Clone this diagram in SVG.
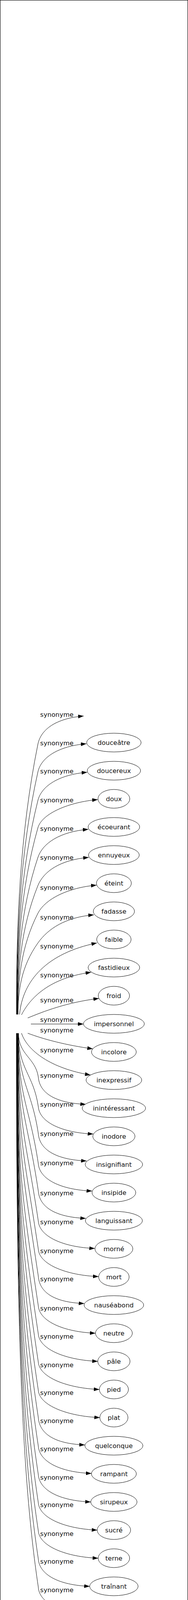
<svg xmlns="http://www.w3.org/2000/svg" width="481" height="4163" viewBox="0 0 481 4163">
<defs>
<style>
.frame{fill:#fff;stroke:#000;stroke-width:1.2}
.n ellipse{fill:#fff;stroke:#000;stroke-width:1}
.n ellipse.hid{fill:none;stroke:none}
.n text{font-family:"DejaVu Sans",Verdana,sans-serif;font-size:16.5px;fill:#111;text-anchor:middle}
.e path{fill:none;stroke:#000;stroke-width:1;marker-end:url(#arr)}
.e text{font-family:"DejaVu Sans",Verdana,sans-serif;font-size:16.5px;fill:#111;text-anchor:middle}
</style>
<marker id="arr" markerUnits="userSpaceOnUse" markerWidth="14" markerHeight="10" viewBox="0 0 13 9" refX="13" refY="4.5" orient="auto">
<path d="M0,0 L13,4.5 L0,9 Z" fill="#000"/>
</marker>
</defs>
<rect class="frame" x="0.5" y="0.5" width="480" height="4162"/>
<g id="edges">
<g class="e" id="e0"><path d="M42,2597 C42,2366 50.3,2136 97,1905 C104.5,1868 142,1839 214,1833"/><text x="145.5" y="1835">synonyme</text></g>
<g class="e" id="e1"><path d="M42.6,2597 C42.6,2390 50.8,2183 97,1976 C105.3,1939 149,1910 221,1904"/><text x="145.5" y="1908">synonyme</text></g>
<g class="e" id="e2"><path d="M43.2,2597 C43.2,2414 51.3,2232 97,2049 C106.3,2012 151,1983 223,1977"/><text x="145.5" y="1980">synonyme</text></g>
<g class="e" id="e3"><path d="M43.8,2597 C43.8,2438 51.8,2278 97,2119 C107.5,2082 178,2053 250,2047"/><text x="145.5" y="2054">synonyme</text></g>
<g class="e" id="e4"><path d="M44.4,2597 C44.4,2463 52.3,2329 97,2195 C109.4,2158 154,2129 226,2123"/><text x="145.5" y="2127">synonyme</text></g>
<g class="e" id="e5"><path d="M45,2597 C45,2487 52.8,2377 97,2267 C111.9,2230 155,2201 227,2195"/><text x="145.5" y="2201">synonyme</text></g>
<g class="e" id="e6"><path d="M45.6,2597 C45.6,2511 53.3,2424 97,2338 C115.7,2301 175,2272 247,2266"/><text x="145.5" y="2278">synonyme</text></g>
<g class="e" id="e7"><path d="M46.2,2597 C46.2,2536 53.8,2475 97,2414 C123.2,2377 168,2348 240,2342"/><text x="145.5" y="2354">synonyme</text></g>
<g class="e" id="e8"><path d="M50,2597 C58,2510 120,2440 248,2414"/><text x="145.5" y="2428">synonyme</text></g>
<g class="e" id="e9"><path d="M55,2598 C72,2565 115,2505 233,2489"/><text x="145.5" y="2502">synonyme</text></g>
<g class="e" id="e10"><path d="M71,2606 C110,2590 170,2566 253,2556"/><text x="145.5" y="2566">synonyme</text></g>
<g class="e" id="e11"><path d="M79,2621.5 L213.4,2621.5"/><text x="145.5" y="2616">synonyme</text></g>
<g class="e" id="e12"><path d="M71,2645 C110,2660 170,2676 237.4,2685"/><text x="145.5" y="2643">synonyme</text></g>
<g class="e" id="e13"><path d="M55,2645 C70,2690 130,2735 231.5,2752"/><text x="145.5" y="2694">synonyme</text></g>
<g class="e" id="e14"><path d="M47.4,2645 C47.4,2701 90.4,2707 98,2757 C101,2797 139.5,2824 219.5,2827"/><text x="145.5" y="2759">synonyme</text></g>
<g class="e" id="e15"><path d="M47.1,2645 C47.1,2739 85.3,2748 98,2833 C101,2873 158.5,2900 238.5,2903"/><text x="145.5" y="2833">synonyme</text></g>
<g class="e" id="e16"><path d="M46.8,2645 C46.8,2773 80.6,2786 98,2902 C101,2942 141.5,2969 221.5,2972"/><text x="145.5" y="2908">synonyme</text></g>
<g class="e" id="e17"><path d="M46.5,2645 C46.5,2812 75.5,2829 98,2979 C101,3019 155.5,3046 235.5,3049"/><text x="145.5" y="2983">synonyme</text></g>
<g class="e" id="e18"><path d="M46.2,2645 C46.2,2847 70.7,2867 98,3049 C101,3089 139.5,3116 219.5,3119"/><text x="145.5" y="3060">synonyme</text></g>
<g class="e" id="e19"><path d="M45.9,2645 C45.9,2885 65.5,2909 98,3126 C101,3166 162.5,3193 242.5,3196"/><text x="145.5" y="3134">synonyme</text></g>
<g class="e" id="e20"><path d="M45.6,2645 C45.6,2921 60.7,2949 98,3198 C101,3238 172,3265 252,3268"/><text x="145.5" y="3208">synonyme</text></g>
<g class="e" id="e21"><path d="M45.3,2645 C45.3,2956 56,2987 98,3267 C101,3307 135.5,3334 215.5,3337"/><text x="145.5" y="3280">synonyme</text></g>
<g class="e" id="e22"><path d="M45,2645 C45,2994 53,3043 98,3343 C101,3383 164.2,3410 244.2,3413"/><text x="145.5" y="3355">synonyme</text></g>
<g class="e" id="e23"><path d="M44.7,2645 C44.7,3030 53,3115 98,3415 C101,3455 170.1,3482 250.1,3485"/><text x="145.5" y="3427">synonyme</text></g>
<g class="e" id="e24"><path d="M44.4,2645 C44.4,3066 53,3187 98,3487 C101,3527 174.2,3554 254.2,3557"/><text x="145.5" y="3500">synonyme</text></g>
<g class="e" id="e25"><path d="M44.1,2645 C44.1,3102 53,3259 98,3559 C101,3599 175.4,3626 255.4,3629"/><text x="145.5" y="3571">synonyme</text></g>
<g class="e" id="e26"><path d="M43.8,2645 C43.8,3137 53,3329 98,3629 C101,3669 137,3696 217,3699"/><text x="145.5" y="3643">synonyme</text></g>
<g class="e" id="e27"><path d="M43.5,2645 C43.5,3173 53,3402 98,3702 C101,3742 153.9,3769 233.9,3772"/><text x="145.5" y="3715">synonyme</text></g>
<g class="e" id="e28"><path d="M43.2,2645 C43.2,3210 53,3475 98,3775 C101,3815 152.2,3842 232.2,3845"/><text x="145.5" y="3788">synonyme</text></g>
<g class="e" id="e29"><path d="M42.9,2645 C42.9,3246 53,3547 98,3847 C101,3887 168.6,3914 248.6,3917"/><text x="145.5" y="3858">synonyme</text></g>
<g class="e" id="e30"><path d="M42.6,2645 C42.6,3282 53,3619 98,3919 C101,3959 171.1,3986 251.1,3989"/><text x="145.5" y="3932">synonyme</text></g>
<g class="e" id="e31"><path d="M42.3,2645 C42.3,3318 53,3691 98,3991 C101,4031 149.4,4058 229.4,4061"/><text x="145.5" y="4003">synonyme</text></g>
<g class="e" id="e32"><path d="M42,2645 C42,3354 53,3763 98,4063 C100,4103 155.4,4130 235.4,4133"/><text x="145.5" y="4076">synonyme</text></g>
</g>
<g id="node-hub" class="n"><ellipse class="hid" cx="45" cy="2621" rx="34" ry="24"/></g>
<g id="node-blank" class="n"><ellipse class="hid" cx="291.4" cy="1829" rx="77" ry="24"/></g>
<g id="node-douceatre" class="n"><ellipse cx="291.4" cy="1901" rx="69.7" ry="24"/><text x="291.4" y="1907">douceâtre</text></g>
<g id="node-doucereux" class="n"><ellipse cx="291.4" cy="1973" rx="68.3" ry="24"/><text x="291.4" y="1979">doucereux</text></g>
<g id="node-doux" class="n"><ellipse cx="291.4" cy="2045" rx="40.7" ry="24"/><text x="291.4" y="2051">doux</text></g>
<g id="node-ecoeurant" class="n"><ellipse cx="291.4" cy="2117" rx="66" ry="24"/><text x="291.4" y="2123">écoeurant</text></g>
<g id="node-ennuyeux" class="n"><ellipse cx="291.4" cy="2189" rx="65" ry="24"/><text x="291.4" y="2195">ennuyeux</text></g>
<g id="node-eteint" class="n"><ellipse cx="291.4" cy="2261" rx="44.7" ry="24"/><text x="291.4" y="2267">éteint</text></g>
<g id="node-fadasse" class="n"><ellipse cx="291.4" cy="2333" rx="52.7" ry="24"/><text x="291.4" y="2339">fadasse</text></g>
<g id="node-faible" class="n"><ellipse cx="291.4" cy="2405" rx="44" ry="24"/><text x="291.4" y="2411">faible</text></g>
<g id="node-fastidieux" class="n"><ellipse cx="291.4" cy="2477" rx="66" ry="24"/><text x="291.4" y="2483">fastidieux</text></g>
<g id="node-froid" class="n"><ellipse cx="291.4" cy="2549" rx="40" ry="24"/><text x="291.4" y="2555">froid</text></g>
<g id="node-impersonnel" class="n"><ellipse cx="291.4" cy="2621" rx="78" ry="24"/><text x="291.4" y="2627">impersonnel</text></g>
<g id="node-incolore" class="n"><ellipse cx="291.4" cy="2693" rx="57.3" ry="24"/><text x="291.4" y="2699">incolore</text></g>
<g id="node-inexpressif" class="n"><ellipse cx="291.4" cy="2765" rx="71.3" ry="24"/><text x="291.4" y="2771">inexpressif</text></g>
<g id="node-ininteressant" class="n"><ellipse cx="291.4" cy="2837" rx="81" ry="24"/><text x="291.4" y="2843">inintéressant</text></g>
<g id="node-inodore" class="n"><ellipse cx="291.4" cy="2909" rx="54" ry="24"/><text x="291.4" y="2915">inodore</text></g>
<g id="node-insignifiant" class="n"><ellipse cx="291.4" cy="2981" rx="73.5" ry="24"/><text x="291.4" y="2987">insignifiant</text></g>
<g id="node-insipide" class="n"><ellipse cx="291.4" cy="3053" rx="56" ry="24"/><text x="291.4" y="3059">insipide</text></g>
<g id="node-languissant" class="n"><ellipse cx="291.4" cy="3125" rx="73" ry="24"/><text x="291.4" y="3131">languissant</text></g>
<g id="node-morne" class="n"><ellipse cx="291.4" cy="3197" rx="48.5" ry="24"/><text x="291.4" y="3203">morné</text></g>
<g id="node-mort" class="n"><ellipse cx="291.4" cy="3269" rx="39" ry="24"/><text x="291.4" y="3275">mort</text></g>
<g id="node-nauseabond" class="n"><ellipse cx="291.4" cy="3341" rx="76.3" ry="24"/><text x="291.4" y="3347">nauséabond</text></g>
<g id="node-neutre" class="n"><ellipse cx="291.4" cy="3413" rx="47.2" ry="24"/><text x="291.4" y="3419">neutre</text></g>
<g id="node-pale" class="n"><ellipse cx="291.4" cy="3485" rx="41.3" ry="24"/><text x="291.4" y="3491">pâle</text></g>
<g id="node-pied" class="n"><ellipse cx="291.4" cy="3557" rx="37.2" ry="24"/><text x="291.4" y="3563">pied</text></g>
<g id="node-plat" class="n"><ellipse cx="291.4" cy="3629" rx="36" ry="24"/><text x="291.4" y="3635">plat</text></g>
<g id="node-quelconque" class="n"><ellipse cx="291.4" cy="3701" rx="74.3" ry="24"/><text x="291.4" y="3707">quelconque</text></g>
<g id="node-rampant" class="n"><ellipse cx="291.4" cy="3773" rx="57.5" ry="24"/><text x="291.4" y="3779">rampant</text></g>
<g id="node-sirupeux" class="n"><ellipse cx="291.4" cy="3845" rx="59.2" ry="24"/><text x="291.4" y="3851">sirupeux</text></g>
<g id="node-sucre" class="n"><ellipse cx="291.4" cy="3917" rx="42.8" ry="24"/><text x="291.4" y="3923">sucré</text></g>
<g id="node-terne" class="n"><ellipse cx="291.4" cy="3989" rx="40.3" ry="24"/><text x="291.4" y="3995">terne</text></g>
<g id="node-trainant" class="n"><ellipse cx="291.4" cy="4061" rx="62" ry="24"/><text x="291.4" y="4067">traînant</text></g>
<g id="node-melliflu" class="n"><ellipse cx="291.4" cy="4133" rx="56" ry="24"/><text x="291.4" y="4139">melliflu</text></g>
</svg>
